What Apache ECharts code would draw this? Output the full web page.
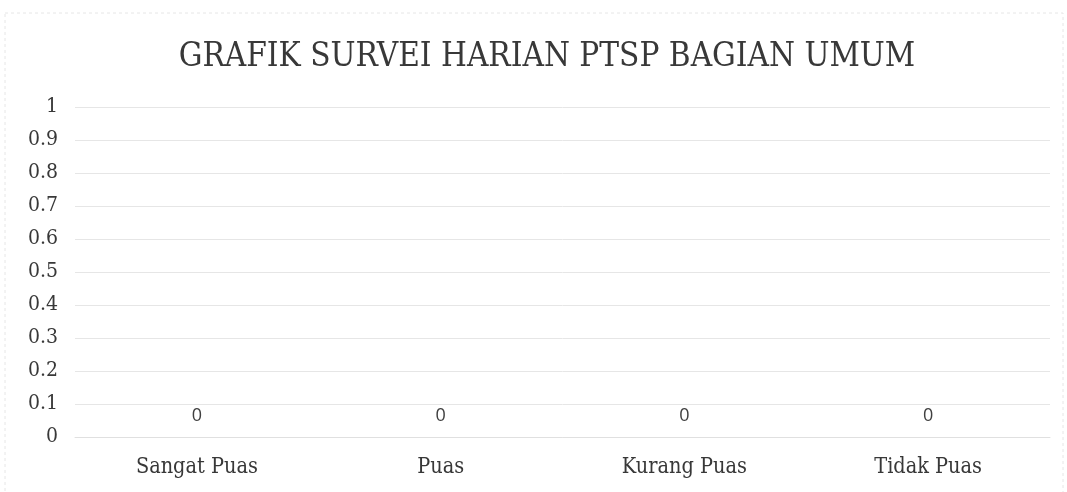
<!DOCTYPE html>
<html>
<head>
<meta charset="utf-8">
<script src="https://cdn.jsdelivr.net/npm/echarts@6/dist/echarts.min.js"></script>
<style>html,body{margin:0;padding:0;background:#fff}#c{width:1067px;height:492px}</style>
</head>
<body>
<div id="c"></div>
<script>
const titleText = 'GRAFIK SURVEI HARIAN PTSP BAGIAN UMUM';
const categories = ['Sangat Puas', 'Puas', 'Kurang Puas', 'Tidak Puas'];
const values = [0, 0, 0, 0];
const yMin = 0, yMax = 1, yStep = 0.1;

const serif = '"DejaVu Serif Condensed", "DejaVu Serif", serif';
const chart = echarts.init(document.getElementById('c'), null, {renderer: 'canvas'});
chart.setOption({
  backgroundColor: '#fff',
  animation: false,
  title: {
    text: titleText,
    left: 542, top: 36, textAlign: 'center',
    textStyle: {fontFamily: serif, fontWeight: 'normal', fontSize: 33, color: '#383838'}
  },
  graphic: [{
    type: 'rect', shape: {x: 5, y: 13, width: 1058, height: 480},
    style: {fill: 'none', stroke: '#e6e6e6', lineWidth: 1, lineDash: [3, 3]}, silent: true
  }],
  grid: {left: 75, right: 17, top: 107, bottom: 55, containLabel: false},
  xAxis: {
    type: 'category', data: categories,
    axisLine: {show: true, lineStyle: {color: '#e0e0e0'}},
    axisTick: {show: false},
    axisLabel: {fontFamily: serif, fontSize: 21.5, color: '#383838', margin: 19}
  },
  yAxis: {
    type: 'value', min: yMin, max: yMax, interval: yStep,
    axisLine: {show: false}, axisTick: {show: false},
    splitLine: {lineStyle: {color: '#e6e6e6', width: 1}},
    axisLabel: {fontFamily: serif, fontSize: 21, color: '#383838', margin: 17,
      formatter: v => String(Math.round(v * 10) / 10)}
  },
  series: [{
    type: 'bar', data: values, barWidth: '40%',
    itemStyle: {color: '#4472c4'},
    label: {show: true, position: 'top', distance: 12,
      fontFamily: 'Open Sans', fontSize: 18, color: '#404040'}
  }]
});
</script>
</body>
</html>
